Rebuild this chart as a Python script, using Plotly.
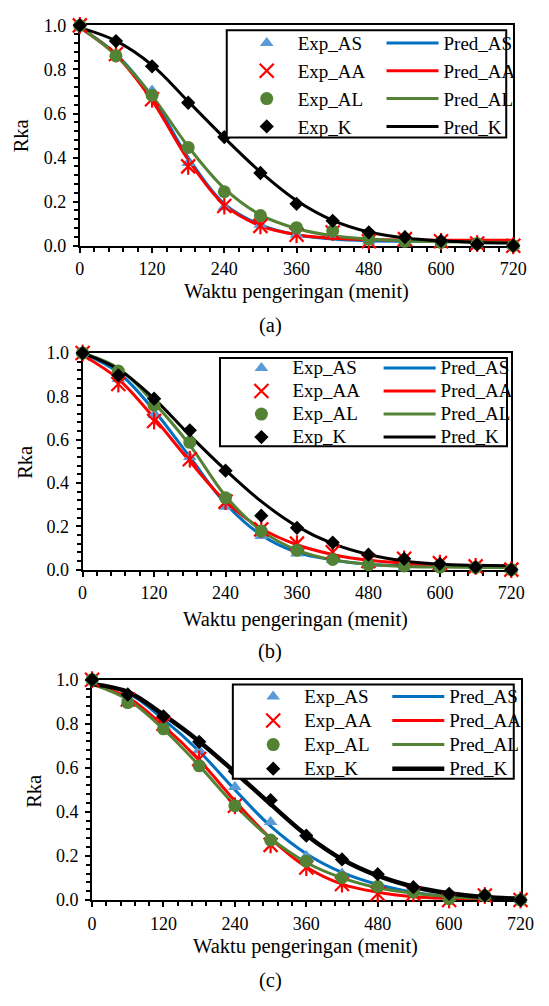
import plotly.graph_objects as go

# waktu pengeringan (menit)
waktu = [0, 60, 120, 180, 240, 300, 360, 420, 480, 540, 600, 660, 720]

# panel (a)
exp_as_a = [1.00, 0.87, 0.705, 0.375, 0.175, 0.095, 0.05, 0.05, 0.02, 0.01, 0.01, 0.00, 0.00]
exp_aa_a = [1.00, 0.87, 0.665, 0.36, 0.18, 0.09, 0.05, 0.06, 0.02, 0.03, 0.02, 0.01, 0.00]
exp_al_a = [1.00, 0.862, 0.683, 0.446, 0.245, 0.137, 0.082, 0.067, 0.03, 0.02, 0.015, 0.01, 0.00]
exp_k_a = [1.00, 0.929, 0.814, 0.649, 0.493, 0.330, 0.190, 0.113, 0.061, 0.039, 0.022, 0.006, 0.00]
pred_as_a = [0.99, 0.87, 0.675, 0.40, 0.19, 0.095, 0.05, 0.03, 0.022, 0.02, 0.02, 0.02, 0.02]
pred_aa_a = [0.99, 0.865, 0.66, 0.39, 0.185, 0.09, 0.05, 0.034, 0.028, 0.026, 0.025, 0.025, 0.025]
pred_al_a = [0.99, 0.865, 0.68, 0.45, 0.26, 0.14, 0.078, 0.045, 0.03, 0.022, 0.018, 0.016, 0.015]
pred_k_a = [0.99, 0.93, 0.82, 0.655, 0.49, 0.335, 0.205, 0.115, 0.062, 0.035, 0.022, 0.015, 0.012]

# panel (b)
exp_as_b = [1.00, 0.88, 0.715, 0.52, 0.29, 0.155, 0.075, 0.045, 0.02, 0.01, 0.01, 0.01, 0.00]
exp_aa_b = [1.00, 0.857, 0.686, 0.51, 0.314, 0.186, 0.12, 0.08, 0.04, 0.05, 0.03, 0.015, 0.00]
exp_al_b = [1.00, 0.917, 0.759, 0.588, 0.332, 0.178, 0.09, 0.047, 0.023, 0.017, 0.012, 0.01, 0.00]
exp_k_b = [1.00, 0.897, 0.789, 0.643, 0.457, 0.249, 0.193, 0.125, 0.069, 0.05, 0.027, 0.012, 0.00]
pred_as_b = [1.00, 0.91, 0.735, 0.52, 0.305, 0.16, 0.08, 0.045, 0.025, 0.018, 0.015, 0.015, 0.015]
pred_aa_b = [0.99, 0.88, 0.70, 0.50, 0.315, 0.19, 0.115, 0.07, 0.043, 0.03, 0.022, 0.018, 0.015]
pred_al_b = [1.00, 0.93, 0.77, 0.575, 0.34, 0.18, 0.09, 0.045, 0.025, 0.015, 0.012, 0.01, 0.01]
pred_k_b = [1.00, 0.925, 0.79, 0.62, 0.46, 0.315, 0.20, 0.12, 0.07, 0.04, 0.025, 0.02, 0.018]

# panel (c)
exp_as_c = [1.00, 0.92, 0.83, 0.68, 0.513, 0.354, 0.20, 0.12, 0.07, 0.035, 0.01, 0.02, 0.00]
exp_aa_c = [1.00, 0.91, 0.80, 0.64, 0.428, 0.25, 0.147, 0.072, 0.028, 0.028, 0.00, 0.02, 0.00]
exp_al_c = [1.00, 0.896, 0.777, 0.609, 0.428, 0.272, 0.176, 0.102, 0.061, 0.036, 0.006, 0.019, 0.00]
exp_k_c = [1.00, 0.933, 0.834, 0.718, 0.584, 0.453, 0.292, 0.184, 0.117, 0.058, 0.028, 0.021, 0.00]
pred_as_c = [0.98, 0.94, 0.82, 0.675, 0.50, 0.335, 0.21, 0.125, 0.07, 0.035, 0.015, 0.007, 0.003]
pred_aa_c = [0.98, 0.92, 0.79, 0.635, 0.45, 0.28, 0.15, 0.072, 0.035, 0.015, 0.007, 0.003, 0.001]
pred_al_c = [0.98, 0.91, 0.775, 0.61, 0.43, 0.28, 0.17, 0.10, 0.055, 0.03, 0.015, 0.008, 0.005]
pred_k_c = [0.98, 0.945, 0.84, 0.72, 0.58, 0.435, 0.295, 0.185, 0.11, 0.06, 0.03, 0.013, 0.005]

x_ticks = [0, 120, 240, 360, 480, 600, 720]

W, H = 549, 1006
FONT = "Liberation Serif"

# pixel layout of each panel: plot box, legend box, legend columns, label positions
panels = [
    dict(tag="(a)", ax="", box=(77.5, 526.5, 15.7, 240.5), leg=(229.7, 519.2, 20.7, 130),
         col1=239, col2=390, row0=33.3, rowh=27.8, xt=(302, 286.7), cap=(274.5, 321.7), yt=(17.5, 128),
         kw=3,
         exp=(exp_as_a, exp_aa_a, exp_al_a, exp_k_a), pred=(pred_as_a, pred_aa_a, pred_al_a, pred_k_a)),
    dict(tag="(b)", ax="2", box=(80.4, 524.5, 350, 571), leg=(222.7, 520, 355, 445),
         col1=233.5, col2=387, row0=365, rowh=23, xt=(301, 621.7), cap=(274.5, 655), yt=(20, 461.7),
         kw=3,
         exp=(exp_as_b, exp_aa_b, exp_al_b, exp_k_b), pred=(pred_as_b, pred_aa_b, pred_al_b, pred_k_b)),
    dict(tag="(c)", ax="3", box=(90.2, 534, 683.3, 908), leg=(236, 527, 688.3, 784.3),
         col1=245.7, col2=396, row0=700, rowh=24.1, xt=(311, 955), cap=(274.5, 990), yt=(30, 796.7),
         kw=4.5,
         exp=(exp_as_c, exp_aa_c, exp_al_c, exp_k_c), pred=(pred_as_c, pred_aa_c, pred_al_c, pred_k_c)),
]

names = ["AS", "AA", "AL", "K"]
line_colors = ["#0070C0", "#FF0000", "#548235", "#000000"]


def px(v):
    return v / W


def py(v):
    return 1 - v / H


def label(s):
    return '<span style="font-size:19px">' + s + "</span>"


fig = go.Figure()
layout = dict(
    width=W, height=H,
    margin=dict(l=0, r=0, t=0, b=0),
    paper_bgcolor="white", plot_bgcolor="white",
    font=dict(family=FONT, size=18, color="black"),
    showlegend=True,
    annotations=[], shapes=[],
)

for i, p in enumerate(panels):
    xa, ya = "x" + p["ax"], "y" + p["ax"]
    leg_exp = "legend" if i == 0 else "legend" + str(2 * i + 1)
    leg_pred = "legend" + str(2 * i + 2)

    # predicted curves
    for n, vals, c in zip(names, p["pred"], line_colors):
        fig.add_trace(go.Scatter(
            x=waktu, y=vals, mode="lines", name=label("Pred_" + n),
            line=dict(color=c, width=p["kw"] if n == "K" else 3, shape="spline", smoothing=1.0),
            xaxis=xa, yaxis=ya, legend=leg_pred, cliponaxis=False,
        ))

    e_as, e_aa, e_al, e_k = p["exp"]
    fig.add_trace(go.Scatter(
        x=waktu, y=e_as, mode="markers", name=label("Exp_AS"),
        marker=dict(symbol="triangle-up", size=12, color="#5B9BD5"),
        xaxis=xa, yaxis=ya, legend=leg_exp, cliponaxis=False,
    ))
    fig.add_trace(go.Scatter(
        x=waktu, y=e_aa, mode="markers", name=label("Exp_AA"),
        marker=dict(symbol="x-thin-open", size=14, color="#FF0000", line=dict(width=2.2, color="#FF0000")),
        xaxis=xa, yaxis=ya, legend=leg_exp, cliponaxis=False,
    ))
    fig.add_trace(go.Scatter(
        x=waktu, y=e_aa, mode="markers", showlegend=False, hoverinfo="skip",
        marker=dict(symbol="line-ns-open", size=12, color="#FF0000", line=dict(width=2.2, color="#FF0000")),
        xaxis=xa, yaxis=ya, cliponaxis=False,
    ))
    fig.add_trace(go.Scatter(
        x=waktu, y=e_al, mode="markers", name=label("Exp_AL"),
        marker=dict(symbol="circle", size=13, color="#548235"),
        xaxis=xa, yaxis=ya, legend=leg_exp, cliponaxis=False,
    ))
    fig.add_trace(go.Scatter(
        x=waktu, y=e_k, mode="markers", name=label("Exp_K"),
        marker=dict(symbol="diamond", size=11, color="#000000"),
        xaxis=xa, yaxis=ya, legend=leg_exp, cliponaxis=False,
    ))

    x0, x1, y0, y1 = p["box"]
    axis_common = dict(
        showline=True, linecolor="black", linewidth=2, mirror=True,
        ticks="outside", ticklen=5, tickwidth=1.5, tickcolor="black",
        showgrid=False, zeroline=False, layer="below traces",
        tickfont=dict(family=FONT, size=18, color="black"),
    )
    layout["xaxis" + p["ax"]] = dict(
        axis_common, domain=[px(x0), px(x1)], range=[0, 720],
        tickvals=x_ticks, anchor=ya, ticklabelstandoff=1,
        minor=dict(dtick=24, tick0=0, ticks="outside", ticklen=4, tickcolor="black", tickwidth=1.5),
    )
    layout["yaxis" + p["ax"]] = dict(
        axis_common, domain=[py(y1), py(y0)], range=[0, 1.0],
        dtick=0.2, tickformat=".1f", anchor=xa, ticklabelstandoff=3,
        minor=dict(dtick=0.04, tick0=0, ticks="outside", ticklen=4, tickcolor="black", tickwidth=1.5),
    )

    # legend frame
    lx0, lx1, ly0, ly1 = p["leg"]
    layout["shapes"].append(dict(
        type="rect", xref="paper", yref="paper",
        x0=px(lx0), x1=px(lx1), y0=py(ly1), y1=py(ly0),
        line=dict(color="black", width=2), fillcolor="white", layer="above",
    ))
    fs = (p["rowh"] - 3) / 1.3
    top = p["row0"] - 5 - p["rowh"] / 2
    for key, cx in ((leg_exp, p["col1"]), (leg_pred, p["col2"])):
        layout[key] = dict(
            x=px(cx), y=py(top), xanchor="left", yanchor="top",
            xref="paper", yref="paper", orientation="v",
            bgcolor="rgba(0,0,0,0)", borderwidth=0, itemwidth=52,
            font=dict(family=FONT, size=fs, color="black"), traceorder="normal",
        )

    ann = dict(xref="paper", yref="paper", showarrow=False, xanchor="center", yanchor="middle",
               font=dict(family=FONT, size=20.5, color="black"))
    layout["annotations"] += [
        dict(ann, text="Waktu pengeringan (menit)", x=px(p["xt"][0]), y=py(p["xt"][1])),
        dict(ann, text=p["tag"], x=px(p["cap"][0]), y=py(p["cap"][1])),
        dict(ann, text="Rka", x=px(p["yt"][0]), y=py(p["yt"][1]), textangle=-90),
    ]

fig.update_layout(layout)
fig.write_html("out.html", config={"displayModeBar": False},
               post_script="document.body.style.margin='0';")
